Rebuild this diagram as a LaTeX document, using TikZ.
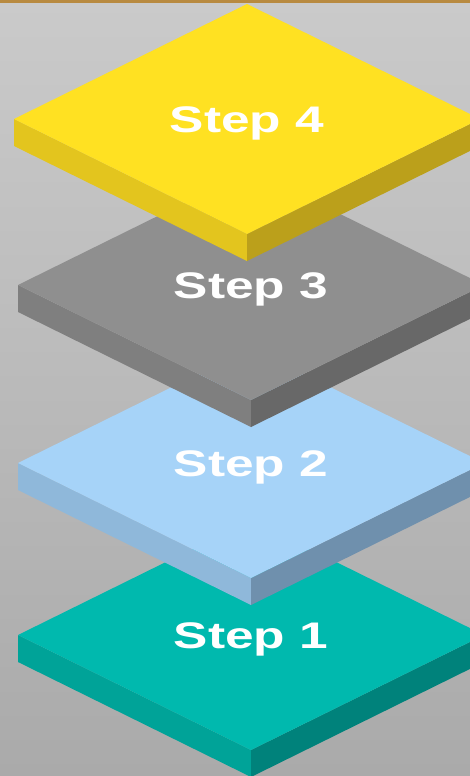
\documentclass[tikz,border=0pt]{standalone}
\usepackage{fontspec}
\setmainfont{Liberation Sans}
\usetikzlibrary{calc}
\definecolor{bgtop}{RGB}{202,202,202}
\definecolor{bgbot}{RGB}{170,170,170}
\definecolor{bandcol}{RGB}{184,138,64}
\definecolor{yeltop}{RGB}{255,225,34}
\definecolor{yelleft}{RGB}{227,197,30}
\definecolor{yelright}{RGB}{187,160,27}
\definecolor{gratop}{RGB}{143,143,143}
\definecolor{graleft}{RGB}{127,127,127}
\definecolor{graright}{RGB}{104,104,104}
\definecolor{blutop}{RGB}{166,211,248}
\definecolor{bluleft}{RGB}{143,184,218}
\definecolor{bluright}{RGB}{111,144,173}
\definecolor{teatop}{RGB}{0,185,174}
\definecolor{tealeft}{RGB}{0,163,152}
\definecolor{tearight}{RGB}{0,130,123}
\tikzset{
  % white caption on a slab
  steplabel/.style={text=white, inner sep=0pt, xscale=1.39, anchor=base,
                    font=\fontsize{37}{37}\selectfont\bfseries},
}
% slab: #1 name, #2 centre of top face, #3 top, #4 left, #5 right colour, #6 caption
\newcommand{\slab}[6]{%
  \coordinate (#1) at (#2);
  \fill[#4] ($(#1)+(-233,0)$) -- ($(#1)+(0,115)$) -- ($(#1)+(0,142)$) -- ($(#1)+(-233,27)$) -- cycle;
  \fill[#5] ($(#1)+(233,0)$) -- ($(#1)+(0,115)$) -- ($(#1)+(0,142)$) -- ($(#1)+(233,27)$) -- cycle;
  \fill[#3] ($(#1)+(-233,0)$) -- ($(#1)+(0,-115)$) -- ($(#1)+(233,0)$) -- ($(#1)+(0,115)$) -- cycle;
  \node[steplabel] (#1l) at ($(#1)+(0,13)$) {#6};
}

\begin{document}
\begin{tikzpicture}[x=1pt, y=-1pt]
  % background
  \useasboundingbox (0,0) rectangle (470,776);
  \shade[top color=bgtop, bottom color=bgbot] (0,0) rectangle (470,776);
  \fill[bandcol] (0,0) rectangle (470,3);
  % slabs, lowest first
  \slab{s1}{251,635}{teatop}{tealeft}{tearight}{Step 1}
  \slab{s2}{251,463}{blutop}{bluleft}{bluright}{Step 2}
  \slab{s3}{251,285}{gratop}{graleft}{graright}{Step 3}
  \slab{s4}{247,119}{yeltop}{yelleft}{yelright}{Step 4}
\end{tikzpicture}
\end{document}
